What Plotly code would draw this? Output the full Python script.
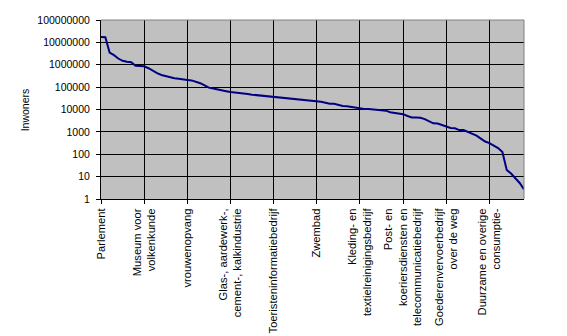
import plotly.graph_objects as go

# Inhabitants per facility, sorted descending (log scale)
inwoners = [
    17600000, 17000000, 3500000, 2700000, 1900000, 1500000, 1350000, 1300000, 900000, 880000,
    850000, 700000, 520000, 420000, 350000, 310000, 270000, 250000, 235000, 230000,
    210000, 200000, 180000, 150000, 120000, 95000, 87000, 81000, 74000, 66000,
    60000, 58000, 54000, 51000, 49000, 46000, 44000, 41000, 39500, 37000,
    35000, 34000, 33000, 31000, 29000, 28000, 27000, 26000, 25000, 25000,
    22500, 22000, 20000, 18000, 18000, 16000, 14200, 14000, 13000, 12400,
    10700, 10600, 10500, 10200, 9800, 9300, 8900, 7600, 7100, 6900,
    6200, 5100, 4400, 4400, 4300, 3700, 3000, 2400, 2350, 2000,
    1750, 1500, 1450, 1200, 1200, 1000, 880, 684, 500, 370,
    316, 245, 189, 125, 20, 13.7, 8.2, 5.2, 2.7,
]
positions = list(range(len(inwoners)))

label_positions = [0, 10, 20, 30, 40, 50, 60, 70, 80, 90]
labels = [
    "Parlement",
    "Museum voor<br>volkenkunde",
    "vrouwenopvang",
    "Glas-, aardewerk-,<br>cement-, kalkindustrie",
    "Toeristeninformatiebedrijf",
    "Zwembad",
    "Kleding- en<br>textielreinigingsbedrijf",
    "Post- en<br>koeriersdiensten en<br>telecommunicatiebedrijf",
    "Goederenvervoerbedrijf<br>over de weg",
    "Duurzame en overige<br>consumptie-",
]

y_tickvals = [1, 10, 100, 1000, 10000, 100000, 1000000, 10000000, 100000000]
y_ticktext = ["1", "10", "100", "1000", "10000", "100000", "1000000", "10000000", "100000000"]

FONT = "Liberation Sans, Arial, sans-serif"

fig = go.Figure()
fig.add_trace(go.Scatter(
    x=positions, y=inwoners, mode="lines",
    line=dict(color="#000080", width=2),
    showlegend=False, hoverinfo="skip",
))

fig.update_layout(
    width=567, height=336,
    margin=dict(l=101, r=43, t=20, b=137),
    paper_bgcolor="white",
    plot_bgcolor="#C0C0C0",
    font=dict(family=FONT, size=10.5, color="black"),
    xaxis=dict(
        range=[0, len(inwoners) - 1],
        tickmode="array", tickvals=label_positions, ticktext=labels,
        tickangle=-90,
        showgrid=True, gridcolor="black", gridwidth=1,
        showline=True, linecolor="black", linewidth=1,
        ticks="outside", ticklen=4, tickcolor="black",
        zeroline=False, automargin=False,
        tickfont=dict(family=FONT, size=11.2, color="black"),
    ),
    yaxis=dict(
        type="log", range=[0, 8],
        tickmode="array", tickvals=y_tickvals, ticktext=y_ticktext,
        showgrid=True, gridcolor="black", gridwidth=1,
        showline=True, linecolor="black", linewidth=1,
        ticks="outside", ticklen=4, tickcolor="black",
        ticklabelstandoff=4,
        zeroline=False, automargin=False,
        tickfont=dict(family=FONT, size=10.5, color="black"),
    ),
    annotations=[dict(
        text="Inwoners", xref="paper", yref="paper",
        x=-0.18, y=0.5, showarrow=False, textangle=-90,
        font=dict(family=FONT, size=10.5, color="black"),
        xanchor="center", yanchor="middle",
    )],
    shapes=[
        dict(type="line", xref="paper", yref="paper", x0=0, x1=1, y0=1, y1=1,
             line=dict(color="#808080", width=1), layer="above"),
        dict(type="line", xref="paper", yref="paper", x0=1, x1=1, y0=0, y1=1,
             line=dict(color="#808080", width=1), layer="above"),
    ],
)

fig.write_html("out.html")
